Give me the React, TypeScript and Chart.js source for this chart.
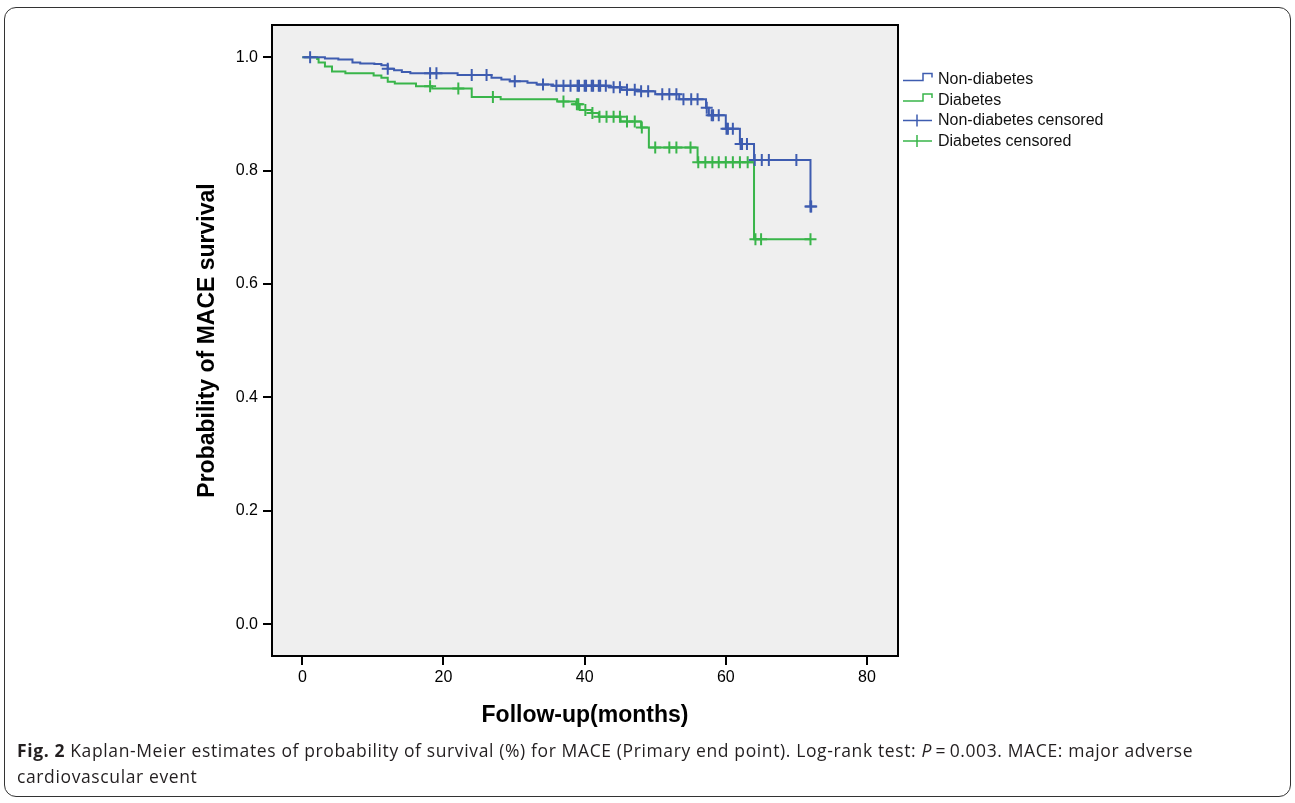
import React, { useEffect, useRef } from 'react';
import { Chart, registerables } from 'chart.js';

Chart.register(...registerables);

// ---- Data ----
const X_TICKS = [0, 20, 40, 60, 80];
const Y_TICKS = [0, 0.2, 0.4, 0.6, 0.8, 1.0];

const LEGEND_LABELS = ['Non-diabetes', 'Diabetes', 'Non-diabetes censored', 'Diabetes censored'];

// Non-diabetes Kaplan-Meier steps (time in months, survival after the step)
const NON_DIAB_TIME = [0, 3.2, 5.1, 7.1, 8.2, 10.2, 11.2, 12.1, 13.0, 14.1, 15.3, 22.0, 26.8, 28.2, 29.4, 31.9, 33.2, 35.5, 43.5, 45.2, 47.5, 50.0, 53.4, 57.2, 57.6, 60.0, 62.0, 64.0, 72.0];
const NON_DIAB_SURV = [1.0, 0.998, 0.996, 0.991, 0.989, 0.988, 0.986, 0.980, 0.977, 0.974, 0.972, 0.969, 0.964, 0.961, 0.958, 0.955, 0.952, 0.950, 0.947, 0.943, 0.940, 0.935, 0.926, 0.911, 0.898, 0.874, 0.847, 0.819, 0.737];
const NON_DIAB_CENSORED = [1.1, 12.1, 18.1, 19.0, 24.0, 26.1, 30.1, 34.1, 36.0, 37.0, 38.0, 39.0, 39.2, 40.0, 40.2, 41.0, 41.2, 42.0, 42.2, 43.0, 44.1, 45.0, 46.0, 47.1, 48.0, 49.0, 51.0, 52.0, 53.0, 54.0, 55.1, 56.0, 57.3, 58.0, 58.2, 59.0, 60.1, 60.3, 61.0, 62.1, 62.3, 63.0, 64.1, 65.1, 66.1, 70.0, 72.0, 72.1];

// Diabetes Kaplan-Meier steps
const DIAB_TIME = [0, 2.1, 2.3, 3.2, 4.2, 6.1, 10.1, 11.2, 12.1, 13.1, 16.1, 18.4, 24.0, 28.1, 36.1, 38.8, 39.3, 41.0, 42.0, 45.1, 48.0, 49.1, 56.0, 64.0, 72.0];
const DIAB_SURV = [1.0, 0.997, 0.991, 0.984, 0.975, 0.972, 0.968, 0.964, 0.957, 0.954, 0.949, 0.945, 0.930, 0.926, 0.922, 0.917, 0.907, 0.902, 0.895, 0.887, 0.876, 0.841, 0.815, 0.679, 0.679];
const DIAB_CENSORED = [18.1, 22.1, 27.0, 37.0, 38.9, 39.1, 40.1, 41.1, 42.1, 43.1, 44.1, 45.0, 46.0, 47.1, 48.1, 50.0, 52.0, 53.0, 55.0, 56.1, 57.1, 58.1, 59.0, 60.0, 61.0, 62.0, 63.1, 64.2, 65.0, 72.0];

const BLUE = '#3e5cb0';
const GREEN = '#39b54a';
const FONT = '"Liberation Sans", Arial, Helvetica, sans-serif';

function stepValue(times: number[], surv: number[], t: number): number {
  let v = surv[0];
  for (let i = 0; i < times.length; i++) {
    if (times[i] <= t) v = surv[i];
  }
  return v;
}

const bgFramePlugin = {
  id: 'bgFrame',
  beforeDatasetsDraw(chart: any) {
    const { ctx, chartArea } = chart;
    ctx.save();
    ctx.fillStyle = '#efefef';
    ctx.fillRect(chartArea.left, chartArea.top, chartArea.right - chartArea.left, chartArea.bottom - chartArea.top);
    ctx.restore();
  },
  afterDraw(chart: any) {
    const { ctx, chartArea } = chart;
    ctx.save();
    ctx.strokeStyle = '#000';
    ctx.lineWidth = 2;
    ctx.strokeRect(chartArea.left, chartArea.top, chartArea.right - chartArea.left, chartArea.bottom - chartArea.top);

    // legend
    const x0 = chartArea.right + 5;
    const colors = [BLUE, GREEN, BLUE, GREEN];
    ctx.font = `16px ${FONT}`;
    ctx.textBaseline = 'middle';
    ctx.textAlign = 'left';
    LEGEND_LABELS.forEach((label, i) => {
      const y = chartArea.top + 54.5 + i * 20.5;
      ctx.strokeStyle = colors[i];
      ctx.lineWidth = 1.5;
      ctx.beginPath();
      if (i < 2) {
        ctx.moveTo(x0, y + 1);
        ctx.lineTo(x0 + 20, y + 1);
        ctx.lineTo(x0 + 20, y - 6);
        ctx.lineTo(x0 + 29, y - 6);
        ctx.lineTo(x0 + 29, y - 2);
      } else {
        ctx.moveTo(x0, y);
        ctx.lineTo(x0 + 29, y);
        ctx.moveTo(x0 + 14, y - 6);
        ctx.lineTo(x0 + 14, y + 6);
      }
      ctx.stroke();
      ctx.fillStyle = '#111';
      ctx.fillText(label, x0 + 35, y + 0.5);
    });
    ctx.restore();
  },
};

export default function App() {
  const canvasRef = useRef<HTMLCanvasElement | null>(null);

  useEffect(() => {
    document.body.style.margin = '0';
    const canvas = canvasRef.current;
    if (!canvas) return;

    const nonDiabLine = NON_DIAB_TIME.map((t, i) => ({ x: t, y: NON_DIAB_SURV[i] }));
    const diabLine = DIAB_TIME.map((t, i) => ({ x: t, y: DIAB_SURV[i] }));
    const nonDiabCens = NON_DIAB_CENSORED.map((t) => ({ x: t, y: stepValue(NON_DIAB_TIME, NON_DIAB_SURV, t) }));
    const diabCens = DIAB_CENSORED.map((t) => ({ x: t, y: stepValue(DIAB_TIME, DIAB_SURV, t) }));

    const chart = new Chart(canvas, {
      type: 'line',
      data: {
        datasets: [
          {
            type: 'scatter',
            label: 'Non-diabetes censored',
            data: nonDiabCens,
            showLine: false,
            pointStyle: 'cross',
            pointRadius: 6,
            pointBorderWidth: 2,
            borderColor: BLUE,
            backgroundColor: BLUE,
            order: 0,
          } as any,
          {
            type: 'scatter',
            label: 'Diabetes censored',
            data: diabCens,
            showLine: false,
            pointStyle: 'cross',
            pointRadius: 6,
            pointBorderWidth: 2,
            borderColor: GREEN,
            backgroundColor: GREEN,
            order: 1,
          } as any,
          {
            label: 'Non-diabetes',
            data: nonDiabLine,
            stepped: true,
            borderColor: BLUE,
            borderWidth: 2,
            pointRadius: 0,
            fill: false,
            order: 2,
          },
          {
            label: 'Diabetes',
            data: diabLine,
            stepped: true,
            borderColor: GREEN,
            borderWidth: 2,
            pointRadius: 0,
            fill: false,
            order: 3,
          },
        ],
      },
      options: {
        animation: false,
        responsive: false,
        devicePixelRatio: 1,
        layout: { padding: { left: 190, top: 25, right: 397, bottom: 67 } },
        plugins: {
          legend: { display: false },
          tooltip: { enabled: false },
        },
        scales: {
          x: {
            type: 'linear',
            min: -4.3,
            max: 84.4,
            afterBuildTicks: (scale: any) => {
              scale.ticks = X_TICKS.map((v) => ({ value: v }));
            },
            afterFit: (scale: any) => {
              scale.height = 80;
            },
            ticks: {
              color: '#000',
              font: { family: FONT, size: 16 },
              padding: 3,
              maxRotation: 0,
              callback: (v: any) => String(v),
            },
            grid: {
              drawOnChartArea: false,
              drawTicks: true,
              tickLength: 9,
              color: '#000',
              lineWidth: 2,
            },
            border: { display: false },
            title: {
              display: true,
              text: 'Follow-up(months)',
              color: '#000',
              font: { family: FONT, size: 23, weight: 'bold' },
              padding: { top: 0, bottom: 7 },
            },
          },
          y: {
            type: 'linear',
            min: -0.056,
            max: 1.057,
            afterBuildTicks: (scale: any) => {
              scale.ticks = Y_TICKS.map((v) => ({ value: v }));
            },
            afterFit: (scale: any) => {
              scale.width = 82;
            },
            ticks: {
              color: '#000',
              font: { family: FONT, size: 16 },
              padding: 5,
              callback: (v: any) => Number(v).toFixed(1),
            },
            grid: {
              drawOnChartArea: false,
              drawTicks: true,
              tickLength: 9,
              color: '#000',
              lineWidth: 2,
            },
            border: { display: false },
            title: {
              display: true,
              text: 'Probability of MACE survival',
              color: '#000',
              font: { family: FONT, size: 23, weight: 'bold' },
              padding: { top: 4, bottom: 0 },
            },
          },
        },
      },
      plugins: [bgFramePlugin],
    });

    return () => {
      chart.destroy();
    };
  }, []);

  return (
    <div style={{ position: 'relative', width: 1295, height: 803, background: '#fff', overflow: 'hidden' }}>
      <div
        style={{
          position: 'absolute',
          left: 4,
          top: 7,
          width: 1287,
          height: 790,
          boxSizing: 'border-box',
          border: '1.5px solid #333',
          borderRadius: 12,
        }}
      />
      <canvas
        ref={canvasRef}
        width={1295}
        height={803}
        style={{ position: 'absolute', left: 0, top: 0, width: 1295, height: 803, display: 'block' }}
      />
      <div
        style={{
          position: 'absolute',
          left: 17,
          top: 737,
          width: 1270,
          fontFamily: '"Open Sans", "Noto Sans", sans-serif',
          fontSize: 17.5,
          lineHeight: '26px',
          color: '#231f20',
          letterSpacing: '0.62px',
        }}
      >
        <span style={{ whiteSpace: 'nowrap' }}>
          <b>Fig. 2</b> Kaplan-Meier estimates of probability of survival (%) for MACE (Primary end point). Log-rank test: <i>P</i>&#8201;=&#8201;0.003. MACE: major adverse
        </span>
        <br />
        cardiovascular event
      </div>
    </div>
  );
}
